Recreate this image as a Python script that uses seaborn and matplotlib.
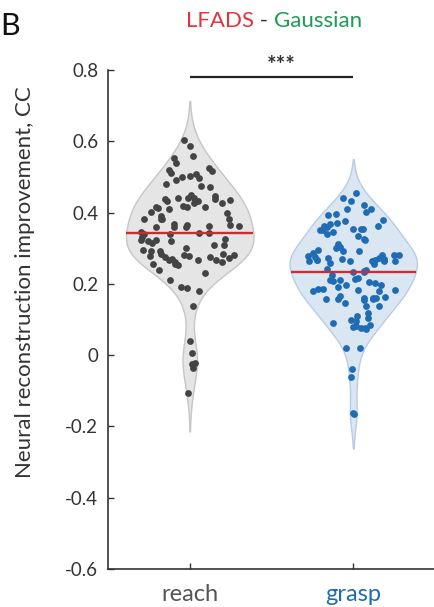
import numpy as np
import pandas as pd
import matplotlib
matplotlib.use("Agg")
import matplotlib.pyplot as plt
import seaborn as sns

# Improvement in neural reconstruction (CC), LFADS minus Gaussian smoothing
tasks = ["reach", "grasp"]
reach_cc = [
    0.605, 0.586, 0.560, 0.553, 0.539, 0.525, 0.519, 0.511, 0.516, 0.507,
    0.500, 0.502, 0.497, 0.491, 0.481, 0.472, 0.474, 0.449, 0.446, 0.440,
    0.436, 0.437, 0.427, 0.441, 0.440, 0.432, 0.432, 0.437, 0.427, 0.415,
    0.415, 0.409, 0.402, 0.399, 0.418, 0.413, 0.415, 0.390, 0.383, 0.382,
    0.382, 0.381, 0.367, 0.365, 0.365, 0.362, 0.359, 0.346, 0.359, 0.362,
    0.359, 0.343, 0.339, 0.331, 0.325, 0.343, 0.339, 0.320, 0.320, 0.322,
    0.323, 0.309, 0.301, 0.315, 0.308, 0.284, 0.278, 0.268, 0.261, 0.256,
    0.268, 0.292, 0.292, 0.296, 0.271, 0.275, 0.278, 0.284, 0.275, 0.262,
    0.266, 0.282, 0.273, 0.254, 0.282, 0.256, 0.231, 0.240, 0.212, 0.187,
    0.191, 0.181, 0.137, 0.039, 0.006, -0.024, -0.036, -0.022, -0.106,
]
grasp_cc = [
    0.454, 0.440, 0.432, 0.421, 0.409, 0.402, 0.392, 0.411, 0.395, 0.378,
    0.368, 0.371, 0.376, 0.362, 0.362, 0.353, 0.339, 0.353, 0.351, 0.354,
    0.346, 0.350, 0.360, 0.334, 0.327, 0.311, 0.322, 0.303, 0.296, 0.301,
    0.292, 0.281, 0.275, 0.287, 0.292, 0.281, 0.264, 0.256, 0.264, 0.268,
    0.264, 0.266, 0.264, 0.278, 0.264, 0.268, 0.271, 0.273, 0.259, 0.282,
    0.273, 0.266, 0.271, 0.234, 0.224, 0.234, 0.236, 0.243, 0.238, 0.210,
    0.203, 0.208, 0.198, 0.196, 0.217, 0.205, 0.214, 0.210, 0.182, 0.186,
    0.192, 0.182, 0.180, 0.186, 0.180, 0.161, 0.161, 0.164, 0.161, 0.158,
    0.154, 0.165, 0.158, 0.147, 0.158, 0.137, 0.137, 0.119, 0.109, 0.105,
    0.098, 0.095, 0.091, 0.081, 0.074, 0.075, 0.075, 0.079, 0.084, 0.020,
    0.020, -0.040, -0.062, -0.166, -0.162,
]
y_ticks = [-0.6, -0.4, -0.2, 0, 0.2, 0.4, 0.6, 0.8]
y_tick_labels = ["-0.6", "-0.4", "-0.2", "0", "0.2", "0.4", "0.6", "0.8"]

fill_colors = ["#e5e5e5", "#dae6f2"]
edge_colors = ["#c6c6c6", "#b8cde3"]
dot_colors = ["#444444", "#1f6cb4"]
label_colors = ["#555555", "#1f6cb4"]
mean_color = "#d22a33"

sns.set_theme(style="ticks")
plt.rcParams["font.family"] = ["Lato", "DejaVu Sans"]
plt.rcParams["axes.unicode_minus"] = False

df = pd.DataFrame({
    "task": ["reach"] * len(reach_cc) + ["grasp"] * len(grasp_cc),
    "cc": reach_cc + grasp_cc,
})

fig = plt.figure(figsize=(4.35, 6.07), dpi=100)
W, H = 435, 607
ax = fig.add_axes([108 / W, 38 / H, 1 - 108 / W, (569 - 70) / H])

sns.violinplot(
    data=df, x="task", y="cc", order=tasks, hue="task", hue_order=tasks,
    palette=fill_colors, saturation=1, inner=None, density_norm="width",
    width=0.78, cut=2, linewidth=1.0, legend=False, ax=ax,
)
violins = [c for c in ax.collections][:2]
for coll, ec in zip(violins, edge_colors):
    coll.set_edgecolor(ec)
    coll.set_linewidth(1.0)


def half_width(coll, center):
    """Half-width of a violin body as a function of y."""
    v = coll.get_paths()[0].vertices
    right = v[v[:, 0] >= center]
    order = np.argsort(right[:, 1])
    ys, xs = right[order, 1], right[order, 0] - center
    return lambda y: np.interp(y, ys, xs)


rng = np.random.default_rng(11)
for i, (vals, coll) in enumerate(zip([reach_cc, grasp_cc], violins)):
    vals = np.asarray(vals)
    hw = half_width(coll, i)
    xpos = i + rng.uniform(-0.8, 0.8, len(vals)) * hw(vals)
    sns.scatterplot(x=xpos, y=vals, color=dot_colors[i], s=24,
                    linewidth=0, ax=ax, zorder=3)
    m = vals.mean()
    w = hw(m)
    ax.plot([i - w, i + w], [m, m], color=mean_color, lw=1.7, zorder=4,
            solid_capstyle="butt")

# significance bracket
ax.plot([0, 1], [0.78, 0.78], color="#222222", lw=1.6, clip_on=False,
        solid_capstyle="butt")
ax.text(0.56, 0.812, "***", ha="center", va="center", fontsize=16,
        fontweight="bold", color="#333333")

ax.set_xlim(-0.5, 1.5)
ax.set_ylim(-0.6, 0.8)
ax.set_yticks(y_ticks)
ax.set_yticklabels(y_tick_labels)
ax.set_xticks([0, 1])
ax.set_xticklabels(tasks)
ax.tick_params(axis="y", direction="in", length=4, width=1.0,
               labelsize=13.5, pad=7, colors="#333333", labelcolor="#333333")
ax.tick_params(axis="x", direction="in", length=4, width=1.0,
               labelsize=17, pad=11, colors="#333333")
for lbl, col in zip(ax.get_xticklabels(), label_colors):
    lbl.set_color(col)
ax.set_xlabel("")
ax.set_ylabel("Neural reconstruction improvement, CC", fontsize=16,
              color="#333333")
ax.yaxis.set_label_coords((25 - 108) / (W - 108), 0.575)
ax.yaxis.label.set_va("center")
sns.despine(ax=ax)
for s in ["left", "bottom"]:
    ax.spines[s].set_color("#333333")
    ax.spines[s].set_linewidth(1.2)
ax.set_facecolor("white")

# panel letter and title
fig.text(0.0, 1 - 26 / H, "B", fontsize=22, ha="left", va="center",
         color="#111111")
pieces = [("LFADS", "#e0353c"), (" - ", "#333333"), ("Gaussian", "#1e9b55")]
fig.canvas.draw()
renderer = fig.canvas.get_renderer()
tmp = [fig.text(0, 0, t, fontsize=16) for t, _ in pieces]
widths = [t.get_window_extent(renderer).width for t in tmp]
for t in tmp:
    t.remove()
x0 = 274 - sum(widths) / 2
for (t, c), w in zip(pieces, widths):
    fig.text(x0 / W, 1 - 27 / H, t, fontsize=16, color=c, ha="left",
             va="baseline")
    x0 += w

fig.savefig("out.png", dpi=100)
